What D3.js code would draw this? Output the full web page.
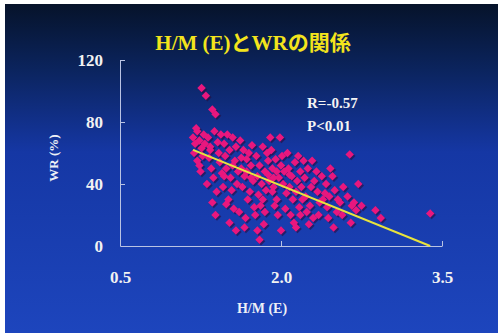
<!DOCTYPE html>
<html>
<head>
<meta charset="utf-8">
<script src="https://cdn.jsdelivr.net/npm/d3@7"></script>
<style>
  body { margin: 0; background: #fff; }
  svg { display: block; }
</style>
</head>
<body>
<div id="chart"></div>
<script>
// H/M (E) and WR (%)
var hm = [1.18,1.20,1.22,1.19,1.24,1.26,1.22,1.28,1.27,1.25,1.21,1.29,1.26,1.30,1.24,
  1.32,1.34,1.36,1.39,1.33,1.38,1.41,1.35,1.42,1.37,1.44,1.31,1.40,1.43,1.36,1.45,1.34,1.39,
  1.47,1.50,1.48,1.52,1.55,1.49,1.53,1.57,1.46,1.51,1.54,1.58,1.60,1.56,1.52,1.58,1.49,1.55,1.59,1.47,
  1.62,1.65,1.68,1.63,1.70,1.66,1.72,1.64,1.69,1.74,1.61,1.67,1.73,1.71,1.75,1.63,1.68,1.66,1.72,
  1.77,1.80,1.83,1.78,1.85,1.82,1.88,1.79,1.86,1.81,1.89,1.76,1.84,1.87,1.80,1.83,1.78,1.90,1.85,1.88,
  1.92,1.95,1.98,1.93,2.00,1.96,2.03,1.91,1.99,2.02,1.94,2.05,1.97,2.01,1.93,2.04,1.96,2.00,1.92,
  2.07,2.10,2.13,2.08,2.15,2.11,2.18,2.06,2.14,2.17,2.09,2.19,2.12,2.16,2.20,2.08,2.14,2.18,
  2.22,2.25,2.28,2.23,2.31,2.27,2.34,2.21,2.36,2.30,2.38,2.24,2.33,2.26,2.39,2.29,2.35,
  2.42,2.45,2.48,2.43,2.50,2.52,2.46,2.55,2.44,2.58,2.49,2.53,2.57,2.41,
  2.64,2.62,2.66,2.70,2.68,2.72,2.65,2.88,2.93,3.39,2.75];
var wr = [70,66,74,60,68,63,55,72,58,48,76,66,102,97,52,
  70,64,88,85,57,74,67,50,60,44,72,40,35,54,28,47,62,20,
  66,72,58,62,70,50,44,55,38,30,36,64,48,24,15,10,27,52,40,45,
  68,62,56,50,60,45,52,38,30,42,22,18,65,35,25,57,48,12,44,
  58,52,64,45,48,40,55,33,36,26,42,20,14,60,4,30,10,70,22,46,
  50,56,44,38,52,30,48,62,70,40,26,34,20,58,44,24,48,10,35,
  50,45,54,38,42,30,48,60,35,25,20,38,15,58,30,46,12,20,
  44,50,38,32,42,26,35,55,28,18,45,22,48,14,30,55,20,
  40,32,45,25,36,22,50,28,18,38,12,30,20,34,
  59,32,26,23,28,40,15,23,18,21,26];

// regression line end points
var fitX = [1.18, 3.39];
var fitY = [62, 0];

var xTicks = [0.5, 2.0, 3.5];
var yTicks = [0, 40, 80, 120];

var W = 503, H = 336;
var svg = d3.select("#chart").append("svg")
    .attr("width", W)
    .attr("height", H);

var defs = svg.append("defs");
var grad = defs.append("linearGradient")
    .attr("id", "bg")
    .attr("x1", 0).attr("y1", 0).attr("x2", 0).attr("y2", 1);
grad.append("stop").attr("offset", "0%").attr("stop-color", "#06132a");
grad.append("stop").attr("offset", "20%").attr("stop-color", "#0b245e");
grad.append("stop").attr("offset", "45%").attr("stop-color", "#1537a4");
grad.append("stop").attr("offset", "100%").attr("stop-color", "#1d45bd");

svg.append("rect")
    .attr("x", 5).attr("y", 4)
    .attr("width", 493).attr("height", 329)
    .attr("fill", "url(#bg)");

var x = d3.scaleLinear().domain([0.5, 3.5]).range([120, 442]);
var y = d3.scaleLinear().domain([0, 120]).range([246, 60]);

var serif = "'Liberation Serif', 'Times New Roman', serif";

// axes
var gx = svg.append("g")
    .attr("transform", "translate(0,246)")
    .call(d3.axisBottom(x).tickValues(xTicks).tickFormat(d3.format(".1f"))
        .tickSizeInner(-5).tickSizeOuter(0).tickPadding(25));
var gy = svg.append("g")
    .attr("transform", "translate(120,0)")
    .call(d3.axisLeft(y).tickValues(yTicks)
        .tickSizeInner(-5).tickSizeOuter(0).tickPadding(17));

[gx, gy].forEach(function(g) {
    g.select(".domain").attr("stroke", "#b9c3e3").attr("stroke-width", 1);
    g.selectAll(".tick line").attr("stroke", "#b9c3e3");
    g.selectAll(".tick text")
        .attr("fill", "#f2f2f2")
        .style("font-family", serif)
        .style("font-weight", "bold")
        .style("font-size", "17px");
});
gx.selectAll(".tick").filter(function(d) { return d === 0.5; }).select("line").remove();
gy.selectAll(".tick").filter(function(d) { return d === 0; }).select("line").remove();

// points
var pts = hm.map(function(d, i) { return [d, wr[i]]; });
var diamond = d3.symbol().type(d3.symbolSquare).size(36);

svg.append("g")
    .selectAll("path")
    .data(pts)
    .join("path")
    .attr("d", diamond)
    .attr("transform", function(d) { return "translate(" + (x(d[0]) + 1.5) + "," + (y(d[1]) + 1.5) + ") rotate(45)"; })
    .attr("fill", "#2a0c3c")
    .attr("opacity", 0.6);

svg.append("g")
    .selectAll("path")
    .data(pts)
    .join("path")
    .attr("d", diamond)
    .attr("transform", function(d) { return "translate(" + x(d[0]) + "," + y(d[1]) + ") rotate(45)"; })
    .attr("fill", "#e8177e");

// fit line
svg.append("line")
    .attr("x1", x(fitX[0])).attr("y1", y(fitY[0]))
    .attr("x2", x(fitX[1])).attr("y2", y(fitY[1]))
    .attr("stroke", "#e8e33c")
    .attr("stroke-width", 2);

// title
svg.append("text")
    .attr("x", 253).attr("y", 50)
    .attr("text-anchor", "middle")
    .attr("fill", "#f3e41c")
    .style("font-family", "'Liberation Serif', 'Noto Sans CJK JP', serif")
    .style("font-weight", "bold")
    .style("font-size", "21px")
    .text("H/M (E)とWRの関係");

// axis titles
svg.append("text")
    .attr("x", 262).attr("y", 313)
    .attr("text-anchor", "middle")
    .attr("fill", "#eef0f6")
    .style("font-family", serif)
    .style("font-weight", "bold")
    .style("font-size", "14px")
    .text("H/M (E)");

svg.append("text")
    .attr("transform", "translate(58,158) rotate(-90)")
    .attr("text-anchor", "middle")
    .attr("fill", "#eef0f6")
    .style("font-family", serif)
    .style("font-weight", "bold")
    .style("font-size", "13px")
    .text("WR (%)");

// stats
var stats = ["R=-0.57", "P<0.01"];
svg.append("g")
    .selectAll("text")
    .data(stats)
    .join("text")
    .attr("x", 307)
    .attr("y", function(d, i) { return 108 + i * 23; })
    .attr("fill", "#f4f4f4")
    .style("font-family", serif)
    .style("font-weight", "bold")
    .style("font-size", "15px")
    .text(function(d) { return d; });
</script>
</body>
</html>
